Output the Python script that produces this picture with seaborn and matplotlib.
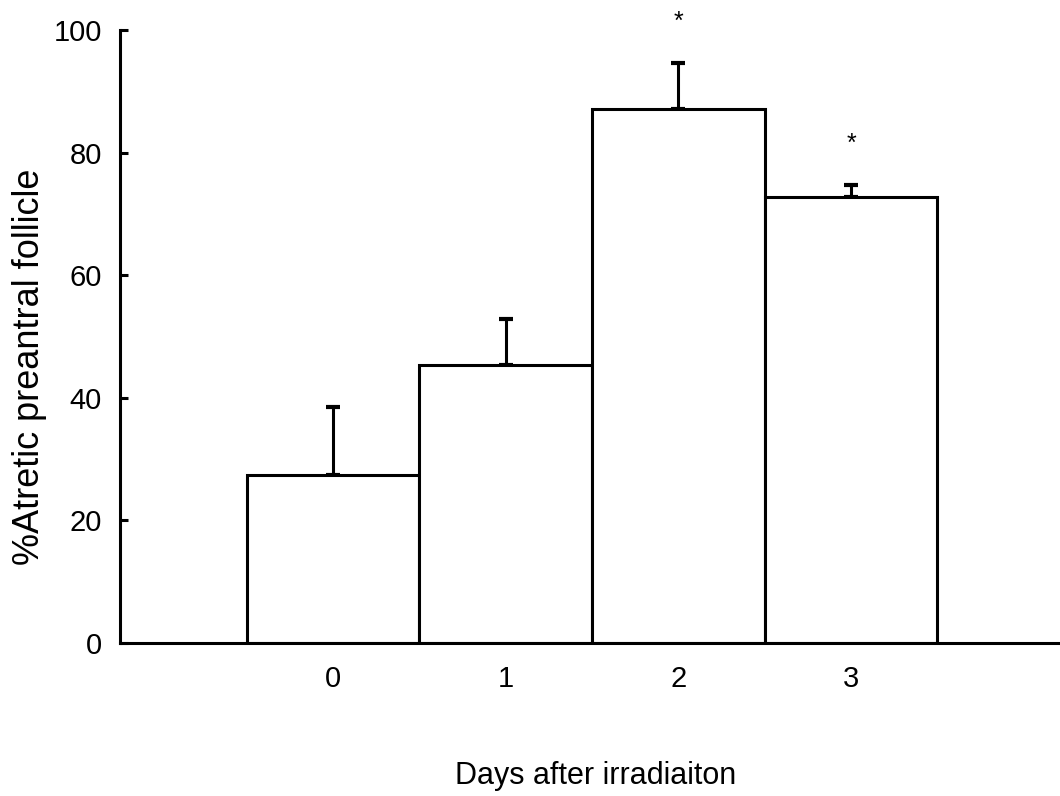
import matplotlib
matplotlib.use("Agg")
import matplotlib.pyplot as plt
import seaborn as sns
import pandas as pd
import numpy as np

days = ["0", "1", "2", "3"]
means = [27.4, 45.3, 87.1, 72.7]
errors = [11.1, 7.5, 7.5, 2.0]
significant = [False, False, True, True]

sns.set_style("ticks")
plt.rcParams['font.family'] = ['Liberation Sans', 'DejaVu Sans']
plt.rcParams.update({"text.color": "black", "axes.labelcolor": "black",
                     "xtick.color": "black", "ytick.color": "black",
                     "axes.edgecolor": "black"})

df = pd.DataFrame({"day": days, "pct": means})

fig = plt.figure(figsize=(10.6, 7.96), dpi=100)
ax = fig.add_axes([120/1060, 1 - 643/796, 1 - 120/1060, (643 - 30)/796])

sns.barplot(data=df, x="day", y="pct", order=days, width=1.0, color="white",
            edgecolor="black", linewidth=2.2, errorbar=None, ax=ax, zorder=2)
for p in ax.patches:
    p.set_facecolor("white")
    p.set_edgecolor("black")

xpos = np.arange(len(days))
ax.errorbar(xpos, means, yerr=[np.zeros(len(errors)), errors], fmt="none",
            ecolor="black", elinewidth=2.2, capsize=5, capthick=3, zorder=1)

for x, m, e, s in zip(xpos, means, errors, significant):
    if s:
        ax.text(x, m + e + 5.6, "*", ha="center", va="baseline", fontsize=18,
                color="black", clip_on=False)

ax.set_xlim(-1.234, 4.21)
ax.set_ylim(0, 100)
ax.set_yticks([0, 20, 40, 60, 80, 100])
ax.tick_params(axis="y", direction="in", length=6, width=2.2, labelsize=21, pad=13,
               colors="black")
ax.tick_params(axis="x", length=0, labelsize=21, pad=16, colors="black")
for sp in ["top", "right"]:
    ax.spines[sp].set_visible(False)
for sp in ["left", "bottom"]:
    ax.spines[sp].set_linewidth(2.2)
    ax.spines[sp].set_color("black")

ax.set_xlabel("Days after irradiaiton", fontsize=22, color="black")
ax.set_ylabel("%Atretic preantral follicle", fontsize=26, color="black")
ax.xaxis.set_label_coords(0.506, -0.192)
ax.yaxis.set_label_coords(-0.078, 0.45)

fig.savefig("out.png", dpi=100)
